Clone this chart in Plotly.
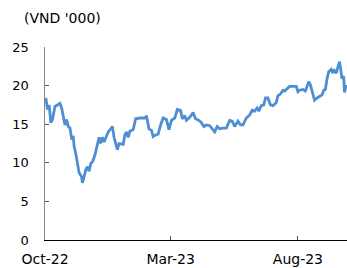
import plotly.graph_objects as go

dates = [
    "2022-10-02", "2022-10-04", "2022-10-06", "2022-10-08", "2022-10-10", "2022-10-13",
    "2022-10-19", "2022-10-21", "2022-10-23", "2022-10-25", "2022-10-27", "2022-10-29",
    "2022-10-31", "2022-11-02", "2022-11-04", "2022-11-05", "2022-11-07", "2022-11-09",
    "2022-11-11", "2022-11-14", "2022-11-15", "2022-11-17", "2022-11-19", "2022-11-21",
    "2022-11-23", "2022-11-25", "2022-11-27", "2022-11-30", "2022-12-03", "2022-12-05",
    "2022-12-07", "2022-12-09", "2022-12-11", "2022-12-13", "2022-12-16", "2022-12-19",
    "2022-12-21", "2022-12-23", "2022-12-25", "2022-12-27", "2022-12-29", "2023-01-03",
    "2023-01-05", "2023-01-07", "2023-01-09", "2023-01-11", "2023-01-15", "2023-01-18",
    "2023-01-23", "2023-01-29", "2023-01-31", "2023-02-03", "2023-02-06", "2023-02-08",
    "2023-02-11", "2023-02-14", "2023-02-17", "2023-02-20", "2023-02-24", "2023-02-27",
    "2023-03-02", "2023-03-06", "2023-03-09", "2023-03-13", "2023-03-15", "2023-03-18",
    "2023-03-20", "2023-03-24", "2023-03-28", "2023-03-31", "2023-04-04", "2023-04-07",
    "2023-04-10", "2023-04-13", "2023-04-17", "2023-04-20", "2023-04-23", "2023-04-26",
    "2023-04-29", "2023-05-03", "2023-05-07", "2023-05-11", "2023-05-14", "2023-05-17",
    "2023-05-21", "2023-05-24", "2023-05-27", "2023-05-31", "2023-06-04", "2023-06-07",
    "2023-06-10", "2023-06-13", "2023-06-15", "2023-06-18", "2023-06-21", "2023-06-23",
    "2023-06-26", "2023-06-29", "2023-07-02", "2023-07-06", "2023-07-08", "2023-07-11",
    "2023-07-14", "2023-07-16", "2023-07-19", "2023-07-22", "2023-07-26", "2023-07-30",
    "2023-08-01", "2023-08-03", "2023-08-07", "2023-08-10", "2023-08-12", "2023-08-14",
    "2023-08-16", "2023-08-19", "2023-08-21", "2023-08-24", "2023-08-27", "2023-08-30",
    "2023-09-01", "2023-09-03", "2023-09-05", "2023-09-07", "2023-09-10", "2023-09-12",
    "2023-09-13", "2023-09-16", "2023-09-18", "2023-09-20", "2023-09-21", "2023-09-23",
    "2023-09-25", "2023-09-26", "2023-09-28",
]

price = [
    18.4, 16.9, 17.5, 15.2, 15.6, 17.3,
    17.7, 17.1, 16.0, 14.9, 15.6, 14.7,
    14.5, 13.2, 13.3, 12.1, 11.2, 10.0,
    8.7, 8.2, 7.4, 8.2, 9.1, 9.5,
    8.9, 9.9, 10.1, 11.0, 12.3, 13.3,
    12.5, 13.3, 12.7, 13.3, 14.0, 14.4,
    14.7, 13.3, 12.3, 11.7, 12.5, 12.4,
    13.6, 14.0, 13.3, 14.1, 14.3, 15.7,
    15.8, 15.8, 16.1, 14.4, 14.2, 13.4,
    13.6, 13.7, 14.9, 15.8, 15.6, 14.3,
    15.5, 15.8, 16.9, 16.8, 15.7, 16.1,
    15.5, 15.9, 16.5, 15.7, 15.5, 15.2,
    14.7, 14.9, 14.8, 14.4, 14.0, 14.7,
    14.4, 14.5, 14.5, 15.5, 15.4, 14.7,
    15.4, 14.9, 14.9, 15.8, 16.2, 16.8,
    16.7, 17.1, 16.7, 17.4, 17.5, 18.4,
    18.4, 17.5, 17.4, 17.8, 18.7, 18.9,
    19.4, 19.3, 19.6, 19.9, 19.9, 19.9,
    19.2, 19.4, 19.5, 19.3, 19.9, 20.5,
    20.1, 18.8, 18.1, 18.4, 18.6, 18.8,
    19.4, 19.5, 20.9, 21.8, 22.1, 21.6,
    22.1, 21.6, 22.4, 23.1, 22.4, 20.9,
    21.2, 19.1, 20.1,
]

x_tick_vals = ["2022-10-01", "2023-03-01", "2023-08-01"]
x_tick_text = ["Oct-22", "Mar-23", "Aug-23"]
y_tick_vals = [0, 5, 10, 15, 20, 25]
unit_label = "(VND '000)"

FONT = "DejaVu Sans"

fig = go.Figure()
fig.add_trace(go.Scatter(
    x=dates, y=price, mode="lines",
    line=dict(color="#4F8ED2", width=2.8),
    hoverinfo="skip", showlegend=False,
))

fig.update_layout(
    width=347, height=268,
    margin=dict(l=45, r=0, t=47, b=28, autoexpand=False),
    paper_bgcolor="white", plot_bgcolor="white",
    font=dict(family=FONT, size=13, color="#000000"),
    showlegend=False,
)

fig.update_xaxes(
    type="date", automargin=False,
    range=["2022-10-01", "2023-09-29"],
    tickvals=x_tick_vals, ticktext=x_tick_text,
    ticks="inside", ticklen=4, tickcolor="#555555", tickwidth=1,
    showline=True, linecolor="#000000", linewidth=1,
    showgrid=False, zeroline=False,
    ticklabelstandoff=6,
    tickfont=dict(family=FONT, size=14, color="#000000"),
)

fig.update_yaxes(
    range=[0, 25], automargin=False,
    tickvals=y_tick_vals,
    ticks="inside", ticklen=4, tickcolor="#555555", tickwidth=1,
    showline=True, linecolor="#888888", linewidth=1.5,
    showgrid=False, zeroline=False,
    ticklabelstandoff=12,
    tickfont=dict(family=FONT, size=13, color="#000000"),
)

fig.add_annotation(
    text=unit_label, xref="paper", yref="paper",
    x=-23 / 302, y=1, yshift=29,
    xanchor="left", yanchor="middle", showarrow=False,
    font=dict(family=FONT, size=14, color="#000000"),
)

fig.write_html(
    "out.html",
    config={"displayModeBar": False, "staticPlot": True},
    post_script="document.body.style.margin='0';document.body.style.overflow='hidden';",
)
